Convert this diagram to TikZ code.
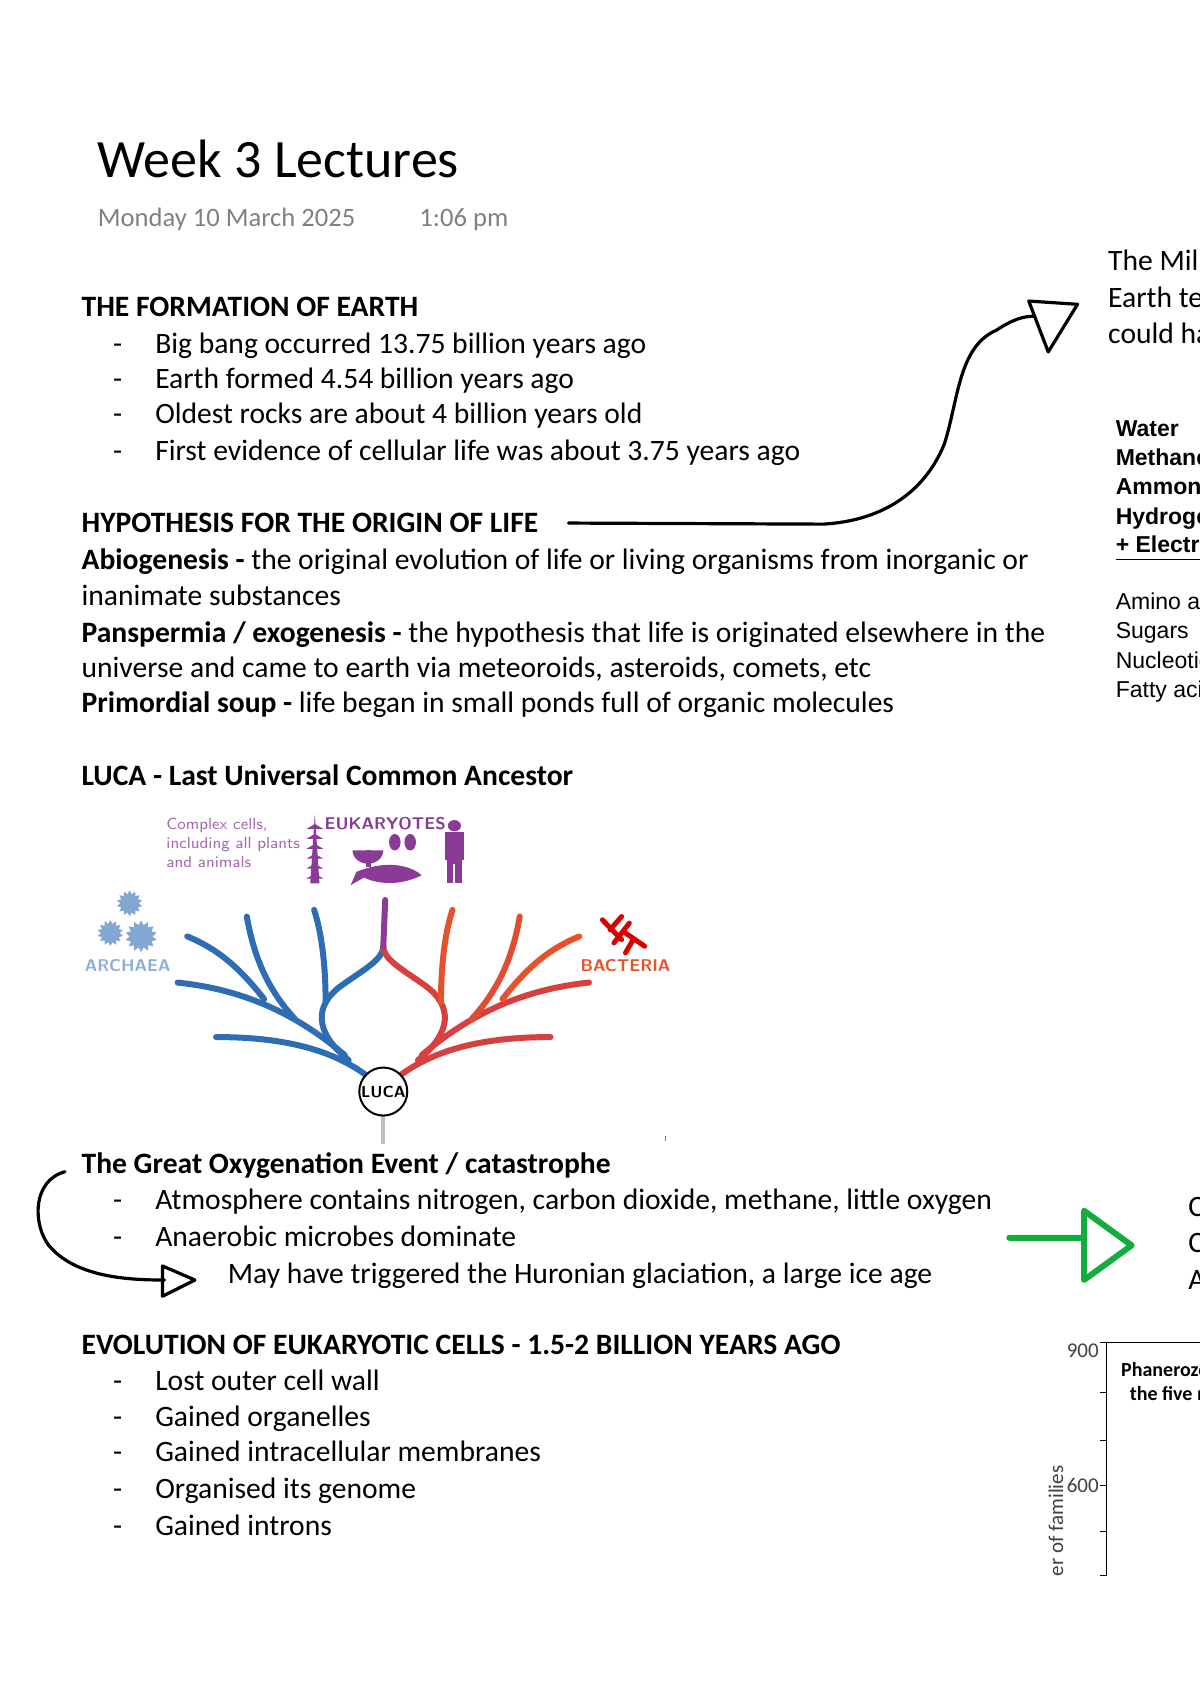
\documentclass[tikz,border=0pt]{standalone}
\usepackage{fontspec}
\setmainfont{Carlito}
\newfontfamily\arialf{Liberation Sans}
\usetikzlibrary{shapes.geometric}
\definecolor{bl}{HTML}{2E6DB4}
\definecolor{rd}{HTML}{D8403F}
\definecolor{pu}{HTML}{8A3B96}
\definecolor{lpu}{HTML}{A46AB0}
\definecolor{gr}{HTML}{12AD3B}
\begin{document}
\begin{tikzpicture}[x=0.5415pt,y=-0.5415pt,
  body/.style={anchor=base west,inner sep=0pt,font=\fontsize{14.8}{17}\selectfont},
  hd/.style={body,font=\fontsize{14.8}{17}\selectfont\bfseries},
  bul/.style={body},
  rt/.style={anchor=base west,inner sep=0pt,font=\arialf\fontsize{11.5}{14}\selectfont},
  pen/.style={line width=1.6pt,line cap=round,line join=round},
  br/.style={line width=3pt,line cap=round},
  spiky/.style={star,star points=14,star point ratio=1.4,fill=bl!60,inner sep=0pt,minimum size=#1}]
\useasboundingbox (0,0) rectangle (1108,1568);
\clip (0,0) rectangle (1108,1568);
\node[anchor=base west,inner sep=0pt,font=\fontsize{27}{31}\selectfont] (title) at (90,164) {Week 3 Lectures};
\node[anchor=base west,inner sep=0pt,text=gray,font=\fontsize{13.3}{15}\selectfont] (date) at (90,209) {Monday 10 March 2025};
\node[anchor=base west,inner sep=0pt,text=gray,font=\fontsize{13.3}{15}\selectfont] (time) at (387,209) {1:06 pm};

\node[hd] (h1) at (75,292) {THE FORMATION OF EARTH};
\foreach \y/\t [count=\i] in {326/Big bang occurred 13.75 billion years ago,359/Earth formed 4.54 billion years ago,391/Oldest rocks are about 4 billion years old,425/First evidence of cellular life was about 3.75 years ago}{
 \node[bul] (d1\i) at (104,\y) {-};
 \node[body] (b1\i) at (143,\y) {\t};}

\node[hd] (h2) at (75,492) {HYPOTHESIS FOR THE ORIGIN OF LIFE};
\node[body] (p1) at (75,526) {\textbf{Abiogenesis -} the original evolution of life or living organisms from inorganic or};
\node[body] (p1b) at (75,559) {inanimate substances};
\node[body] (p2) at (75,593) {\textbf{Panspermia / exogenesis -} the hypothesis that life is originated elsewhere in the};
\node[body] (p2b) at (75,626) {universe and came to earth via meteoroids, asteroids, comets, etc};
\node[body] (p3) at (75,658) {\textbf{Primordial soup -} life began in small ponds full of organic molecules};

\node[hd] (h3) at (75,725) {LUCA - Last Universal Common Ancestor};

\begin{scope}[shift={(73.5,739.6)},x=0.355*0.5415pt,y=-0.305*0.5415pt]
 \draw[br,bl] (745,830) .. controls (640,740) and (500,715) .. (355,715);
 \draw[br,bl] (690,770) .. controls (560,640) and (420,570) .. (255,550);
 \draw[br,bl] (560,660) .. controls (480,560) and (450,450) .. (435,350);
 \draw[br,bl] (480,600) .. controls (400,480) and (340,440) .. (280,410);
 \draw[br,bl] (700,785) .. controls (610,700) and (610,620) .. (680,560) .. controls (740,510) and (790,480) .. (790,440);
 \draw[br,bl] (640,610) .. controls (640,500) and (630,400) .. (610,330);
 \draw[br,rd] (835,830) .. controls (940,740) and (1080,715) .. (1225,715);
 \draw[br,rd] (890,770) .. controls (1020,640) and (1160,570) .. (1325,550);
 \draw[br,rd!80!orange] (1020,660) .. controls (1100,560) and (1130,450) .. (1145,350);
 \draw[br,rd!70!orange] (1100,600) .. controls (1180,480) and (1240,440) .. (1300,410);
 \draw[br,rd] (880,785) .. controls (970,700) and (970,620) .. (900,560) .. controls (840,510) and (790,480) .. (790,440);
 \draw[br,rd!70!orange] (940,610) .. controls (940,500) and (950,400) .. (970,330);
 \draw[br,pu] (790,440) -- (795,300);
 \draw[line width=2pt,gray!50] (790,935) -- (790,1040);
 \node[circle,draw,line width=1pt,fill=white,minimum size=24pt,inner sep=0pt,font=\sffamily\bfseries\fontsize{8}{9}\selectfont] (luca) at (790,880) {LUCA};
 \draw[line width=0.6pt,gray] (1525,1015) -- (1525,1030);
 \node[spiky=13pt] (arc1) at (130,310) {};
 \node[spiky=13pt] (arc2) at (80,400) {};
 \node[spiky=16pt] (arc3) at (160,410) {};
 \node[text=bl!55,font=\sffamily\bfseries\fontsize{8.5}{9}\selectfont] (archaea) at (125,500) {ARCHAEA};
 \draw[line width=2.5pt,red!85!black,line cap=round] (1360,360)--(1410,420) (1390,430)--(1430,370) (1420,400)--(1470,440) (1380,390)--(1410,350) (1440,420)--(1420,460);
 \node[text=rd!70!orange,font=\sffamily\bfseries\fontsize{8.5}{9}\selectfont] (bacteria) at (1420,500) {BACTERIA};
 \node[text=pu,font=\sffamily\bfseries\fontsize{8.5}{9}\selectfont] (euk) at (795,70) {EUKARYOTES};
 \node[text=lpu,anchor=north west,align=left,font=\sffamily\fontsize{8}{9.5}\selectfont,inner sep=0pt] (cc) at (225,50) {Complex cells,\\including all plants\\and animals};
 \fill[pu] (600,250) -- (612,40) -- (624,250) -- cycle;
 \foreach \yy in {70,100,130,160,190,220} \fill[pu] (590,\yy+15) -- (612,\yy) -- (634,\yy+15) -- cycle;
 \fill[pu] (710,150) arc(180:0:40) -- cycle; \fill[pu] (745,150) rectangle (758,200);
 \fill[pu] (820,125) ellipse (15 and 25); \fill[pu] (860,125) ellipse (15 and 25);
 \fill[pu] (720,215) .. controls (780,185) and (850,185) .. (890,225) .. controls (840,255) and (780,255) .. (740,232) -- (705,255) -- (720,215);
 \fill[pu] (975,75) circle (17);
 \fill[pu] (950,95) rectangle (1000,180); \fill[pu] (955,180) rectangle (995,250);
 \draw[white,line width=1pt] (975,190) -- (975,250);
\end{scope}

\node[hd] (h4) at (75,1084) {The Great Oxygenation Event / catastrophe};
\node[bul] (d41) at (104,1117) {-}; \node[body] (b41) at (143,1117) {Atmosphere contains nitrogen, carbon dioxide, methane, little oxygen};
\node[bul] (d42) at (104,1151) {-}; \node[body] (b42) at (143,1151) {Anaerobic microbes dominate};
\node[body] (may) at (210,1185) {May have triggered the Huronian glaciation, a large ice age};

\node[hd] (h5) at (75,1251) {EVOLUTION OF EUKARYOTIC CELLS - 1.5-2 BILLION YEARS AGO};
\foreach \y/\t [count=\i] in {1284/Lost outer cell wall,1317/Gained organelles,1350/Gained intracellular membranes,1384/Organised its genome,1418/Gained introns}{
 \node[bul] (d5\i) at (104,\y) {-};
 \node[body] (b5\i) at (143,\y) {\t};}

\node[body] (m1) at (1023,250) {The Miller-Urey experiment};
\node[body] (m2) at (1023,284) {Earth temperature conditions};
\node[body] (m3) at (1023,317) {could have produced};
\foreach \y/\t [count=\i] in {403/Water,430/Methane,457/Ammonia,484/Hydrogen}
 \node[rt,font=\arialf\bfseries\fontsize{11.5}{14}\selectfont] (r\i) at (1030,\y) {\t};
\node[rt,font=\arialf\bfseries\fontsize{11.5}{14}\selectfont] (r5) at (1030,510) {\underline{+ Electricity}};
\foreach \y/\t [count=\i] in {563/Amino acids,590/Sugars,617/Nucleotides,644/Fatty acids}
 \node[rt] (s\i) at (1030,\y) {\t};
\node[body] (c1) at (1097,1123) {C}; \node[body] (c2) at (1097,1157) {C}; \node[body] (c3) at (1097,1191) {A};

\draw[line width=0.6pt] (1022,1240) -- (1022,1455) (1022,1240) -- (1108,1240);
\foreach \y in {1240,1286,1330,1372,1414,1455} \draw[line width=0.6pt] (1016,\y) -- (1022,\y);
\node[anchor=east,inner sep=0pt,text=darkgray,font=\fontsize{10.5}{12}\selectfont] (t900) at (1015,1247) {900};
\node[anchor=east,inner sep=0pt,text=darkgray,font=\fontsize{10.5}{12}\selectfont] (t600) at (1015,1372) {600};
\node[anchor=base west,inner sep=0pt,font=\bfseries\fontsize{10}{12}\selectfont] (ph1) at (1035,1271) {Phanerozoic};
\node[anchor=base west,inner sep=0pt,font=\bfseries\fontsize{10}{12}\selectfont] (ph2) at (1043,1293) {the five mass};
\node[rotate=90,anchor=west,inner sep=0pt,text=darkgray,font=\fontsize{10.5}{12}\selectfont] (ylab) at (975,1456) {er of families};

\coordinate (a1s) at (525,483);
\draw[pen] (a1s) -- (760,484) .. controls (830,480) and (860,440) .. (872,410) .. controls (885,370) and (885,320) .. (920,305) .. controls (935,295) and (945,292) .. (955,292);
\draw[pen] (950,278) -- (995,281) -- (968,325) -- cycle;
\coordinate (a2s) at (60,1082);
\draw[pen] (a2s) .. controls (30,1090) and (30,1130) .. (45,1150) .. controls (70,1180) and (120,1182) .. (152,1182);
\draw[pen] (150,1169) -- (180,1182) -- (150,1197) -- cycle;
\coordinate (g1) at (932,1143);
\draw[gr,line width=3pt,line cap=round,line join=round] (g1) -- (1000,1143) (1001,1118) -- (1045,1150) -- (1001,1182) -- cycle;
\end{tikzpicture}
\end{document}
